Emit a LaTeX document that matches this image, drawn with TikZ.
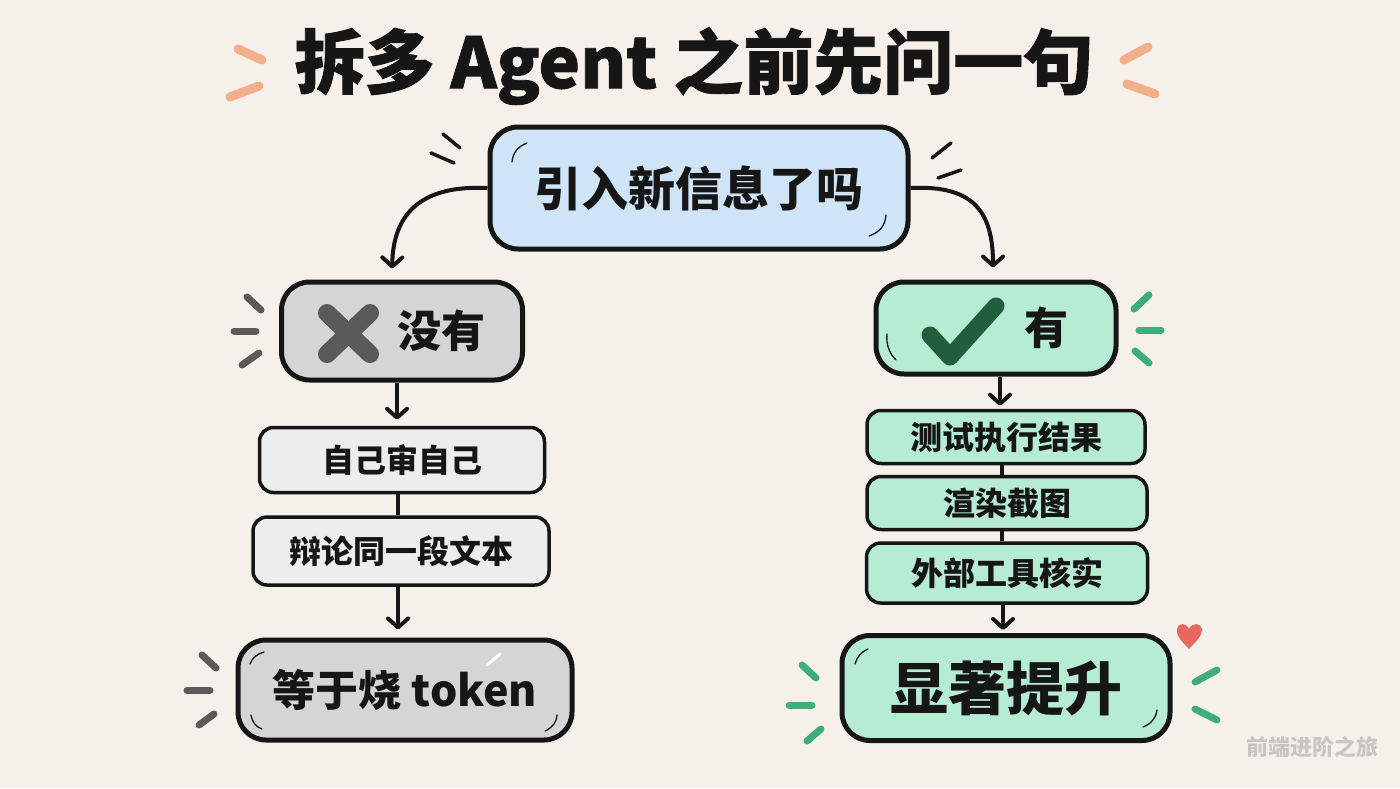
\documentclass[tikz,border=0pt]{standalone}
\usepackage{fontspec}
\setmainfont{Noto Sans CJK SC}
\newfontfamily\titlefont{Noto Sans CJK SC}[FakeBold=1.2]
\usetikzlibrary{arrows.meta}
\definecolor{bg}{HTML}{F5F0EA}
\definecolor{ink}{HTML}{161616}
\definecolor{qblue}{HTML}{CFE5F7}
\definecolor{gbox}{HTML}{D5D5D5}
\definecolor{lgbox}{HTML}{EDEDED}
\definecolor{mint}{HTML}{B5ECD3}
\definecolor{dgreen}{HTML}{1F5F3E}
\definecolor{sgreen}{HTML}{3DAE7A}
\definecolor{sgray}{HTML}{5A5A5A}
\definecolor{sorange}{HTML}{F2AF8A}
\definecolor{heart}{HTML}{E8675F}
\definecolor{wm}{HTML}{C9C6C2}
\tikzset{
  box/.style={draw=ink, rounded corners=#1, inner sep=0pt, align=center, text=ink, font=\bfseries},
  bigbox/.style={box=28pt, line width=5pt},
  smallbox/.style={box=14pt, line width=3.5pt},
  conn/.style={draw=ink, line width=4pt},
  arr/.style={conn, -{Straight Barb[length=9pt,width=20pt,line width=4pt,round]}},
  ray/.style={line width=#1, line cap=round},
  gloss/.style={draw=ink, line width=1.3pt, line cap=round},
}
\begin{document}
\begin{tikzpicture}[x=1pt,y=-1pt]
\fill[bg] (0,0) rectangle (1400,788);
\useasboundingbox (0,0) rectangle (1400,788);

% title
\node[text=ink, font=\titlefont\fontsize{70}{74}\selectfont\bfseries] (title) at (694,66) {拆多 Agent 之前先问一句};
\draw[sorange, ray=9pt] (238,49) -- (262,60);
\draw[sorange, ray=9pt] (230,97) -- (259,86);
\draw[sorange, ray=9pt] (1124,60) -- (1148,47);
\draw[sorange, ray=9pt] (1127,84) -- (1155,94);

% question node
\node[bigbox, fill=qblue, minimum width=418pt, minimum height=122pt, font=\fontsize{47}{50}\selectfont\bfseries] (q) at (699,188) {引入新信息了吗};
\draw[ink, ray=3.5pt] (443,134) -- (460,148);
\draw[ink, ray=3.5pt] (431,153) -- (454,163);
\draw[ink, ray=3.5pt] (932,158) -- (951,143);
\draw[ink, ray=3.5pt] (938,178) -- (961,170);
\draw[gloss] (527,143) .. controls (517,147) and (513,153) .. (512,162);
\draw[gloss] (886,215) .. controls (885,226) and (880,232) .. (869,236);

% left column
\node[bigbox, fill=gbox, minimum width=241pt, minimum height=98pt, font=\fontsize{44}{48}\selectfont\bfseries] (no) at (402,331) {\hspace*{78pt}没有};
\draw[sgray, line width=18pt, line cap=round] (327,313) -- (370,354);
\draw[sgray, line width=18pt, line cap=round] (370,313) -- (327,354);
\draw[sgray, ray=7pt] (247,297) -- (261,310);
\draw[sgray, ray=7pt] (234,331) -- (256,331);
\draw[sgray, ray=7pt] (242,365) -- (259,353);

\node[smallbox, fill=lgbox, minimum width=285pt, minimum height=65pt, font=\fontsize{32}{36}\selectfont\bfseries] (n1) at (402,460) {自己审自己};
\node[smallbox, fill=lgbox, minimum width=296pt, minimum height=68pt, font=\fontsize{32}{36}\selectfont\bfseries] (n2) at (401,551) {辩论同一段文本};
\node[bigbox, fill=gbox, minimum width=334pt, minimum height=100pt, font=\fontsize{43}{47}\selectfont\bfseries] (n3) at (405,690) {等于烧 token};
\draw[gloss] (264,652) .. controls (257,654) and (252,658) .. (250,664);
\draw[gloss] (557,715) .. controls (557,722) and (552,728) .. (545,731);
\draw[gloss] (251,715) .. controls (252,722) and (256,727) .. (262,729);
\draw[white, line width=3pt, line cap=round] (487,665) -- (500,654);
\draw[sgray, ray=7pt] (202,655) -- (216,668);
\draw[sgray, ray=7pt] (187,690) -- (210,690);
\draw[sgray, ray=7pt] (199,725) -- (214,714);

\draw[arr, shorten >=6pt] (no.south -| 397,0) -- (n1.north -| 397,0);
\draw[conn] (n1.south -| 398,0) -- (n2.north -| 398,0);
\draw[arr, shorten >=8pt] (n2.south -| 398,0) -- (n3.north -| 398,0);

% right column
\node[bigbox, fill=mint, minimum width=240pt, minimum height=92pt, font=\fontsize{44}{48}\selectfont\bfseries] (yes) at (996,328) {\hspace*{100pt}有};
\draw[dgreen, line width=17pt, line cap=round, line join=round] (930,335) -- (950,357) -- (996,306);
\draw[gloss] (887,334) .. controls (886,344) and (889,353) .. (896,360);
\draw[sgreen, ray=7pt] (1134,309) -- (1149,295);
\draw[sgreen, ray=7pt] (1139,330) -- (1161,330);
\draw[sgreen, ray=7pt] (1135,351) -- (1149,363);

\node[smallbox, fill=mint, minimum width=278pt, minimum height=53pt, font=\fontsize{32}{36}\selectfont\bfseries] (y1) at (1006,437) {测试执行结果};
\node[smallbox, fill=mint, minimum width=280pt, minimum height=53pt, font=\fontsize{32}{36}\selectfont\bfseries] (y2) at (1007,503) {渲染截图};
\node[smallbox, fill=mint, minimum width=281pt, minimum height=60pt, font=\fontsize{32}{36}\selectfont\bfseries] (y3) at (1007,573) {外部工具核实};
\node[bigbox, fill=mint, minimum width=328pt, minimum height=105pt, font=\fontsize{58}{62}\selectfont\bfseries] (y4) at (1006,688) {显著提升};
\draw[gloss] (868,649) .. controls (861,652) and (857,657) .. (855,664);
\draw[gloss] (1157,710) .. controls (1156,718) and (1151,724) .. (1143,727);
\draw[sgreen, ray=7pt] (802,665) -- (816,678);
\draw[sgreen, ray=7pt] (789,705) -- (812,705);
\draw[sgreen, ray=7pt] (807,741) -- (821,729);
\draw[sgreen, ray=7pt] (1195,682) -- (1217,670);
\draw[sgreen, ray=7pt] (1195,709) -- (1217,720);
\fill[heart] (1189,649) .. controls (1183,642) and (1176,637) .. (1177,629)
  .. controls (1178,623) and (1186,622) .. (1189,629)
  .. controls (1192,622) and (1201,623) .. (1202,629)
  .. controls (1202,637) and (1195,642) .. (1189,649) -- cycle;

\draw[arr, shorten >=3pt] (yes.south -| 1000,0) -- (y1.north -| 1000,0);
\draw[conn] (y1.south -| 1002,0) -- (y2.north -| 1002,0);
\draw[conn] (y2.south -| 1002,0) -- (y3.north -| 1002,0);
\draw[arr, shorten >=3pt] (y3.south -| 1003,0) -- (y4.north -| 1003,0);

% curved arrows from question
\draw[arr, shorten >=11pt] (q.west) .. controls (425,185) and (393,210) .. (no.north -| 392,0);
\draw[arr, shorten >=12pt] (q.east) .. controls (972,185) and (993,210) .. (yes.north -| 993,0);

% watermark
\node[text=wm, font=\fontsize{22}{24}\selectfont\bfseries] (wmark) at (1312,747) {前端进阶之旅};
\end{tikzpicture}
\end{document}
